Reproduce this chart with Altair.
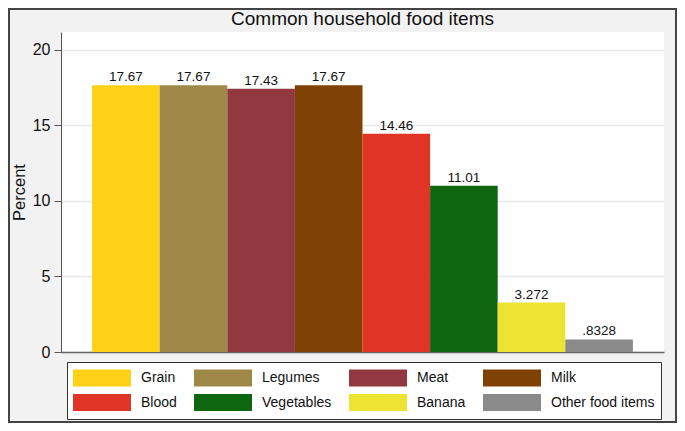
import altair as alt
import pandas as pd

categories = ["Grain", "Legumes", "Meat", "Milk", "Blood", "Vegetables", "Banana", "Other food items"]
values = [17.67, 17.67, 17.43, 17.67, 14.46, 11.01, 3.272, 0.8328]
labels = ["17.67", "17.67", "17.43", "17.67", "14.46", "11.01", "3.272", ".8328"]
colors = ["#FCD116", "#9E8847", "#923841", "#804104", "#E03526", "#0E660E", "#EDE333", "#8A8A8A"]
y_ticks = [0, 5, 10, 15, 20]
title_text = "Common household food items"

df = pd.DataFrame({"item": categories, "pct": values, "lab": labels})

FONT = "Liberation Sans"

x_enc = alt.X("item:N", sort=categories,
              scale=alt.Scale(paddingInner=0, paddingOuter=0.46),
              axis=alt.Axis(labels=False, ticks=False, title=None, grid=False,
                            domainColor="#666666", domainWidth=1.5))

bars = alt.Chart(df).mark_bar(strokeWidth=0).encode(
    x=x_enc,
    y=alt.Y("pct:Q", scale=alt.Scale(domain=[0, 21.19], nice=False, zero=True),
            axis=alt.Axis(values=y_ticks, title="Percent", tickSize=7, labelPadding=4,
                          titleFontSize=16.5, labelFontSize=16, titleFont=FONT, labelFont=FONT,
                          titleFontWeight="normal", titleColor="#111111", labelColor="#111111",
                          titleX=-42, titleY=160, titleAngle=-90, titleAlign="center",
                          titleBaseline="middle",
                          domainColor="#555555", tickColor="#555555",
                          grid=True, gridColor="#e8e8e8", gridWidth=1.3)),
    color=alt.Color("item:N", sort=categories,
                    scale=alt.Scale(domain=categories, range=colors),
                    legend=alt.Legend(title=None, orient="none", legendX=6, legendY=330,
                                      columns=4, direction="horizontal",
                                      symbolType="M-1,-0.293h2v0.586h-2Z", symbolSize=3364,
                                      symbolStrokeWidth=0, symbolOpacity=1,
                                      labelFont=FONT, labelFontSize=14, labelColor="#111111",
                                      labelOffset=10, labelBaseline="middle",
                                      clipHeight=20, rowPadding=4.5, columnPadding=17,
                                      padding=6, fillColor="white", strokeColor="#333333",
                                      labelLimit=300)),
)

text = alt.Chart(df).mark_text(baseline="alphabetic", dy=-4, font=FONT, fontSize=13.5,
                               color="#111111").encode(
    x=alt.X("item:N", sort=categories),
    y="pct:Q",
    text="lab:N",
)

frame = alt.Chart(df).mark_rect(fill=None, stroke="#444444", strokeWidth=2).encode(
    x=alt.value(-52), x2=alt.value(615), y=alt.value(-23), y2=alt.value(390)
)

title = alt.Chart(pd.DataFrame({"t": [title_text]})).mark_text(
    font=FONT, fontSize=19, color="#111111", align="center", baseline="alphabetic"
).encode(x=alt.value(301.5), y=alt.value(-7), text="t:N")

chart = alt.layer(bars, text, frame, title).properties(
    width=603, height=320,
    autosize=alt.AutoSizeParams(type="none"),
    padding={"left": 53, "top": 24, "right": 13, "bottom": 71},
    background="#f2f2f2",
).configure_view(fill="white", stroke=None)

chart.save("out.html", embed_options={"renderer": "svg", "actions": False})
